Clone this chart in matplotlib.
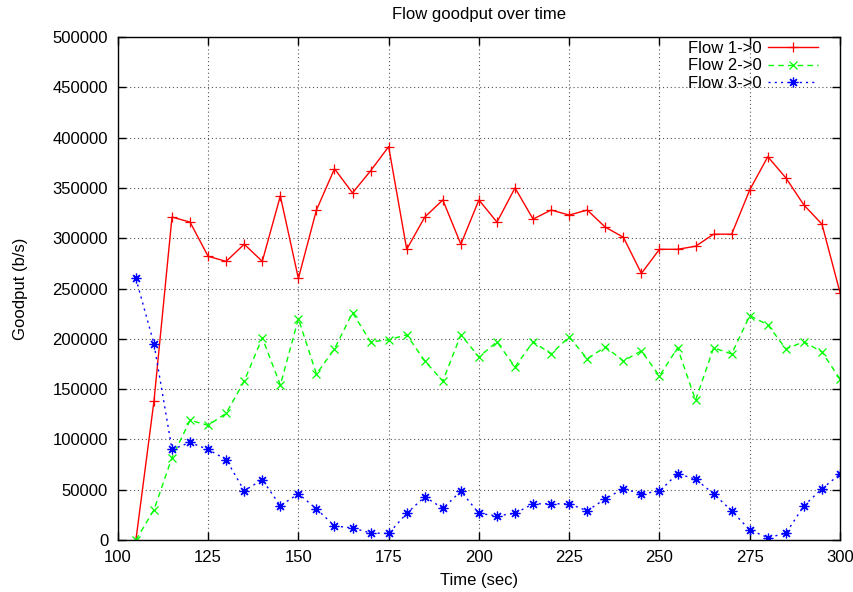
import numpy as np
import matplotlib
matplotlib.use("Agg")
import matplotlib.pyplot as plt
from matplotlib.ticker import FuncFormatter


# Sample times (sec), one sample every 5 s

time_sec = list(range(105, 301, 5))

# Goodput per flow (b/s)

flow1 = [0, 138000, 321000, 316000, 282000, 277000, 294000, 277000, 342000, 260000,
         328000, 369000, 345000, 367000, 391000, 289000, 321000, 338000, 294000, 338000,
         316000, 350000, 319000, 328000, 323000, 328000, 311000, 301000, 265000, 289000,
         289000, 292000, 304000, 304000, 348000, 381000, 360000, 333000, 314000, 246000]

flow2 = [0, 30000, 82000, 119000, 114000, 126000, 158000, 201000, 154000, 220000,
         165000, 190000, 226000, 197000, 199000, 204000, 178000, 158000, 204000, 182000,
         197000, 172000, 197000, 185000, 202000, 180000, 192000, 178000, 188000, 163000,
         191000, 139000, 191000, 185000, 223000, 214000, 190000, 197000, 187000, 160000]

flow3 = [260000, 195000, 90000, 97000, 90000, 80000, 49000, 60000, 34000, 46000,
         31000, 14000, 12000, 7000, 6500, 26500, 43000, 31500, 48500, 26500,
         24000, 26500, 36000, 36000, 36000, 29000, 41000, 51000, 46000, 48500,
         66000, 60500, 46000, 29000, 10000, 2500, 6500, 34000, 51000, 65500]

flow_labels = ["Flow 1->0", "Flow 2->0", "Flow 3->0"]


plt.rcParams["font.family"] = ["Liberation Sans", "DejaVu Sans"]
fs = 12

fig = plt.figure(figsize=(8.54, 5.92), dpi=100)
ax = fig.add_axes([0.138, 0.0878, 0.8456, 0.8497])

ax.plot(time_sec, flow1, color="#ff0000", linestyle="-", linewidth=1,
        marker="+", markersize=7, markeredgewidth=0.9, label=flow_labels[0])
ax.plot(time_sec, flow2, color="#00ff00", linestyle=(0, (4, 3)), linewidth=1,
        marker="x", markersize=5.5, markeredgewidth=0.9, label=flow_labels[1])
ax.plot(time_sec, flow3, color="#0000ff", linestyle=(0, (1.5, 3)), linewidth=1,
        marker=(8, 2, 0), markersize=7, markeredgewidth=0.9, label=flow_labels[2])

ax.set_xlim(100, 300)
ax.set_ylim(0, 500000)
ax.set_xticks(range(100, 301, 25))
ax.set_yticks(range(0, 500001, 50000))
ax.yaxis.set_major_formatter(FuncFormatter(lambda v, p: f"{int(v)}"))

ax.tick_params(direction="in", length=6, width=1, top=True, right=True,
               labelsize=fs, colors="black", pad=7)
for s in ax.spines.values():
    s.set_linewidth(1)
    s.set_color("black")

ax.grid(True, color="#555555", linestyle=(0, (1, 2.5)), linewidth=0.8)

ax.set_title("Flow goodput over time", fontsize=fs, pad=13)
ax.set_xlabel("Time (sec)", fontsize=fs, labelpad=6)
ax.set_ylabel("Goodput (b/s)", fontsize=fs, labelpad=18)

leg = ax.legend(loc="upper right", bbox_to_anchor=(1 - 22 / 722, 1 - 4 / 503),
                frameon=False, markerfirst=False, numpoints=1,
                fontsize=fs, handlelength=3.0, handletextpad=0.4,
                labelspacing=0.14, borderpad=0, borderaxespad=0)

fig.savefig("out.png", dpi=100)
